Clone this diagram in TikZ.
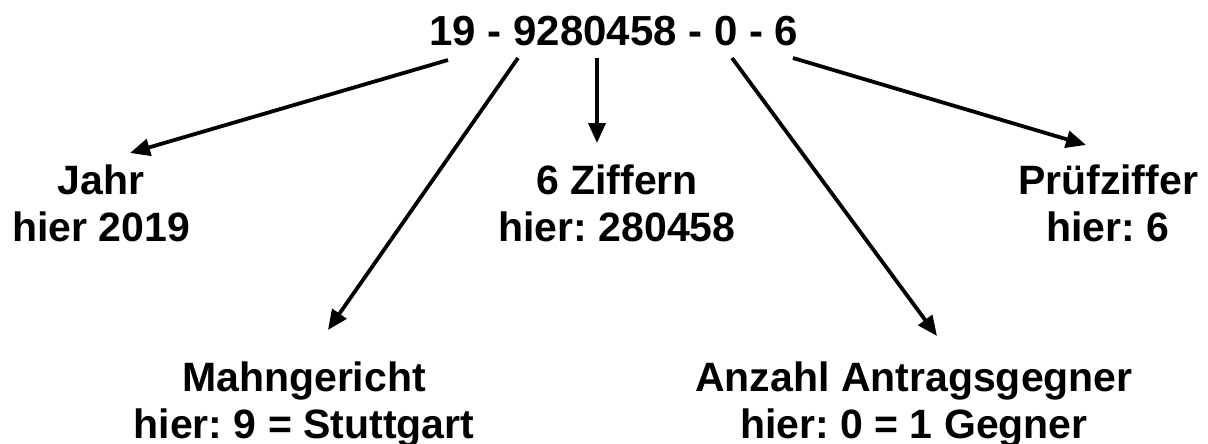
\documentclass[tikz,border=0pt]{standalone}
\usepackage{fontspec}
\setmainfont{Liberation Sans}
\usetikzlibrary{arrows.meta}
\frenchspacing

\begin{document}
\begin{tikzpicture}[x=1pt, y=-1pt,
    pfeil/.style={line width=3.8pt, -{Triangle[length=20pt, width=17pt]}},
    beschriftung/.style={anchor=north, inner sep=0pt, align=center,
      font=\bfseries\fontsize{41}{47}\selectfont}]
  \useasboundingbox (0,0) rectangle (1208,444);

  % The number itself
  \node[anchor=base, inner sep=0pt, font=\bfseries\fontsize{42}{48}\selectfont]
    (nummer) at (614,46) {19 - 9280458 - 0 - 6};

  % Explanations
  \node[beschriftung] (jahr) at (101,165) {Jahr\\hier 2019};
  \node[beschriftung] (ziffern) at (617,165) {6 Ziffern\\hier: 280458};
  \node[beschriftung] (pruef) at (1108,165) {Prüfziffer\\hier: 6};
  \node[beschriftung] (mahn) at (304,362) {Mahngericht\\hier: 9 = Stuttgart};
  \node[beschriftung] (gegner) at (914,362) {Anzahl Antragsgegner\\hier: 0 = 1 Gegner};

  % Start and end points of the arrows
  \coordinate (s-jahr) at (448,60);
  \coordinate (s-mahn) at (518,58);
  \coordinate (s-ziffern) at (597,58);
  \coordinate (s-gegner) at (732,58);
  \coordinate (s-pruef) at (793,58);
  \coordinate (e-jahr) at (130,153);
  \coordinate (e-mahn) at (328,330);
  \coordinate (e-ziffern) at (597,143);
  \coordinate (e-gegner) at (937,336);
  \coordinate (e-pruef) at (1086,145);

  % Arrows
  \draw[pfeil] (s-jahr) -- (e-jahr);
  \draw[pfeil] (s-mahn) -- (e-mahn);
  \draw[pfeil] (s-ziffern) -- (e-ziffern);
  \draw[pfeil] (s-gegner) -- (e-gegner);
  \draw[pfeil] (s-pruef) -- (e-pruef);
\end{tikzpicture}
\end{document}
